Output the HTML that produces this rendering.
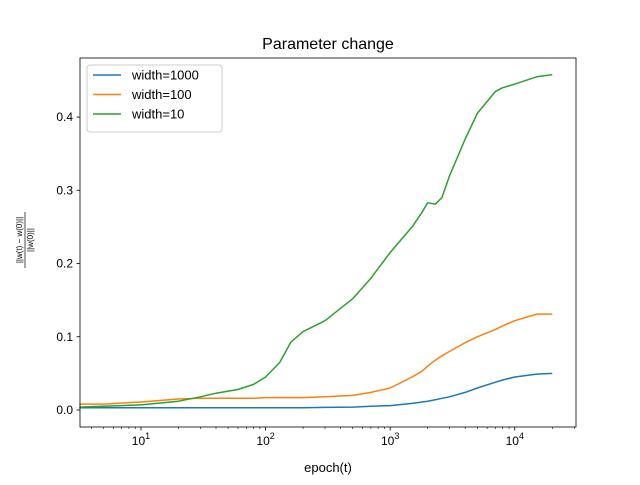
<!DOCTYPE html>
<html><head><meta charset="utf-8"><style>
body{margin:0;background:#fff;}
svg{font-family:"Liberation Sans","DejaVu Sans",sans-serif;}
</style></head><body>
<svg id="chart" width="640" height="480" viewBox="0 0 640 480">
<rect x="0" y="0" width="640" height="480" fill="#fff"/>
<text x="328" y="49" text-anchor="middle" font-size="16">Parameter change</text>
<g id="plot"></g>
<text x="328" y="472" text-anchor="middle" font-size="13">epoch(t)</text>
<g transform="translate(24,240) rotate(-90)">
<text x="0" y="-2" text-anchor="middle" font-size="8">||w(t) − w(0)||</text>
<line x1="-28" y1="1" x2="28" y2="1" stroke="#000" stroke-width="0.7"/>
<text x="0" y="9" text-anchor="middle" font-size="8">||w(0)||</text>
</g>
</svg>
<script>
const epochs = [3.2,5,10,20,30,40,60,80,100,130,160,200,300,500,700,1000,1500,1800,2000,2300,2600,3000,4000,5000,7000,8000,10000,15000,20000];
const green = [0.004,0.005,0.007,0.012,0.018,0.023,0.028,0.035,0.045,0.065,0.093,0.107,0.122,0.152,0.18,0.215,0.25,0.27,0.283,0.281,0.29,0.32,0.37,0.405,0.435,0.44,0.445,0.455,0.458];
const orange = [0.008,0.008,0.011,0.015,0.016,0.016,0.016,0.016,0.017,0.017,0.017,0.017,0.018,0.02,0.024,0.03,0.045,0.053,0.06,0.068,0.074,0.08,0.092,0.1,0.11,0.115,0.122,0.131,0.131];
const blue = [0.003,0.003,0.003,0.003,0.003,0.003,0.003,0.003,0.003,0.003,0.003,0.003,0.0035,0.004,0.005,0.006,0.009,0.011,0.012,0.014,0.016,0.018,0.024,0.03,0.038,0.041,0.045,0.049,0.05];
const yTicks = [0,0.1,0.2,0.3,0.4];
const yTickLabels = ["0.0","0.1","0.2","0.3","0.4"];
const xTicks = [10,100,1000,10000];
const xTickExp = ["1","2","3","4"];
const seriesNames = ["width=1000","width=100","width=10"];

const L=80,R=576,T=58,B=427;
const xmin=Math.log10(3.24), xmax=Math.log10(31000);
const ymin=-0.0232, ymax=0.4806;
const xs=v=>L+(Math.log10(v)-xmin)/(xmax-xmin)*(R-L);
const ys=v=>B-(v-ymin)/(ymax-ymin)*(B-T);
const NS="http://www.w3.org/2000/svg";
const g=document.getElementById('plot');
function mk(t,a,p){const e=document.createElementNS(NS,t);for(const k in a)e.setAttribute(k,a[k]);(p||g).appendChild(e);return e;}
const colors=["#1f77b4","#ff7f0e","#2ca02c"];
[blue,orange,green].forEach((s,i)=>{
 const p=mk('polyline',{points:epochs.map((e,j)=>xs(e).toFixed(1)+','+ys(s[j]).toFixed(1)).join(' '),fill:'none',stroke:colors[i],'stroke-width':1.5,'stroke-linejoin':'round'});
 
 
});
const fr=mk('rect',{x:L,y:T,width:R-L,height:B-T,fill:'none',stroke:'#000','stroke-width':0.8});


yTicks.forEach((v,i)=>{
 const y=ys(v);
 mk('line',{x1:L-3.5,y1:y,x2:L,y2:y,stroke:'#000','stroke-width':0.8});
 const t=mk('text',{x:L-7,y:y+4,'text-anchor':'end','font-size':12});t.textContent=yTickLabels[i];
 
 
});
for(let d=0;d<=4;d++)for(let m=1;m<10;m++){const v=m*Math.pow(10,d);const x=xs(v);if(x<L||x>R)continue;
 mk('line',{x1:x,y1:B,x2:x,y2:B+(m==1?3.5:2),stroke:'#000','stroke-width':m==1?0.8:0.6});}
xTicks.forEach((v,i)=>{
 const t=mk('text',{x:xs(v),y:B+18,'text-anchor':'middle','font-size':12});
 t.innerHTML='10<tspan dy="-6" font-size="9">'+xTickExp[i]+'</tspan>';
 
 
});
const lg=mk('g',{});


mk('rect',{x:87,y:65,width:135,height:67,rx:3,fill:'#fff','fill-opacity':0.8,stroke:'#ccc'},lg);
seriesNames.forEach((n,i)=>{
 const y=75+i*19.5;
 mk('line',{x1:93,y1:y,x2:121,y2:y,stroke:colors[i],'stroke-width':1.5},lg);
 const t=mk('text',{x:132,y:y+4.5,'font-size':13},lg);t.textContent=n;
 
 
});
</script>
</body></html>
